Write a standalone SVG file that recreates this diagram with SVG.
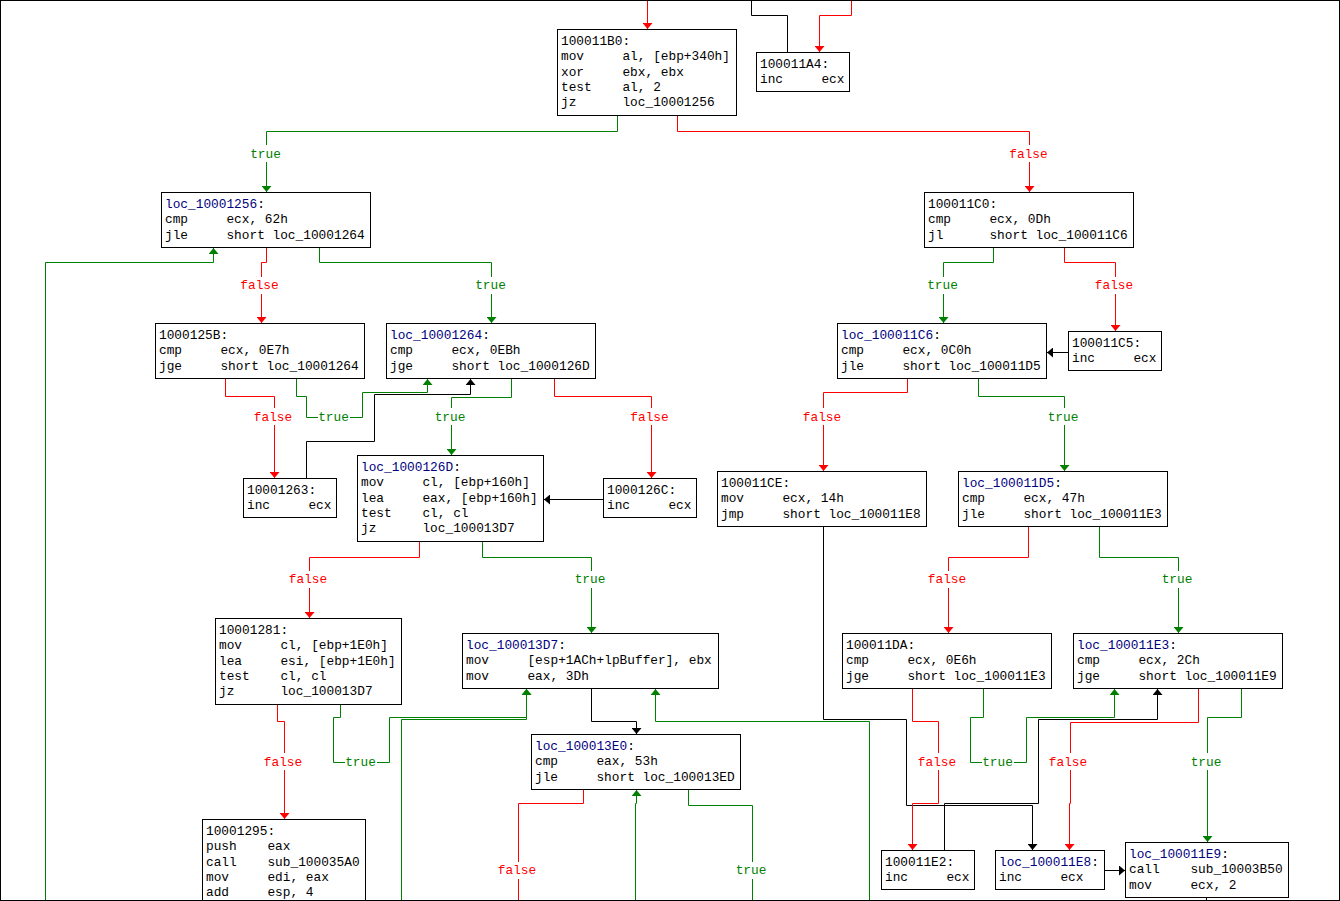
<svg xmlns="http://www.w3.org/2000/svg" width="1340" height="901" viewBox="0 0 1340 901" xml:space="preserve">
<style>
.box{fill:#fff;stroke:#000;stroke-width:1}
.t{font-family:"Liberation Mono","DejaVu Sans Mono",monospace;font-size:12.8px;fill:#000;white-space:pre}
.lb{fill:#000080}
.e{fill:none;stroke-width:1}
.g{stroke:#008000}
.r{stroke:#ff0000}
.k{stroke:#000}
.lt{font-family:"Liberation Mono","DejaVu Sans Mono",monospace;font-size:12.8px;text-anchor:middle;white-space:pre}
.lg{fill:#008000}
.lr{fill:#ff0000}
.bg{fill:#fff}
</style>
<defs>
<marker id="ag" viewBox="0 0 6 10" refX="6" refY="5" markerWidth="6" markerHeight="10" markerUnits="userSpaceOnUse" orient="auto"><path d="M0,0 L6,5 L0,10 z" fill="#008000"/></marker>
<marker id="ar" viewBox="0 0 6 10" refX="6" refY="5" markerWidth="6" markerHeight="10" markerUnits="userSpaceOnUse" orient="auto"><path d="M0,0 L6,5 L0,10 z" fill="#ff0000"/></marker>
<marker id="ak" viewBox="0 0 6 10" refX="6" refY="5" markerWidth="6" markerHeight="10" markerUnits="userSpaceOnUse" orient="auto"><path d="M0,0 L6,5 L0,10 z" fill="#000"/></marker>
</defs>
<rect width="1340" height="901" fill="#fff"/>
<g id="connectors">
<path class="e r" d="M647.5,0 V29" marker-end="url(#ar)"/>
<path class="e k" d="M787.5,52 V15.5 H751.5 V0"/>
<path class="e r" d="M851.5,0 V15.5 H819.5 V52" marker-end="url(#ar)"/>
<path class="e g" d="M617.5,115 V131.5 H266.5 V192" marker-end="url(#ag)"/>
<path class="e r" d="M677.5,115 V131.5 H1029.5 V192" marker-end="url(#ar)"/>
<path class="e r" d="M266.5,247 V262.5 H261.5 V323" marker-end="url(#ar)"/>
<path class="e g" d="M319.5,247 V262.5 H491.5 V323" marker-end="url(#ag)"/>
<path class="e g" d="M45.5,901 V262.5 H213.5 V248" marker-end="url(#ag)"/>
<path class="e g" d="M993.5,247 V262.5 H943.5 V323" marker-end="url(#ag)"/>
<path class="e r" d="M1064.5,247 V262.5 H1115.5 V331" marker-end="url(#ar)"/>
<path class="e k" d="M1068,352.5 H1047" marker-end="url(#ak)"/>
<path class="e r" d="M225.5,378 V396.5 H274.5 V478" marker-end="url(#ar)"/>
<path class="e g" d="M296.5,378 V396.5 H306.5 V417.5 H362.5 V392.5 H427.5 V379" marker-end="url(#ag)"/>
<path class="e k" d="M306.5,478 V441.5 H374.5 V394.5 H470.5 V379" marker-end="url(#ak)"/>
<path class="e g" d="M511.5,378 V397.5 H451.5 V455" marker-end="url(#ag)"/>
<path class="e r" d="M554.5,378 V396.5 H651.5 V478" marker-end="url(#ar)"/>
<path class="e k" d="M603,499.5 H544" marker-end="url(#ak)"/>
<path class="e r" d="M907.5,378 V392.5 H823.5 V471" marker-end="url(#ar)"/>
<path class="e g" d="M978.5,378 V396.5 H1064.5 V471" marker-end="url(#ag)"/>
<path class="e r" d="M419.5,541 V557.5 H309.5 V618" marker-end="url(#ar)"/>
<path class="e g" d="M482.5,541 V557.5 H591.5 V633" marker-end="url(#ag)"/>
<path class="e k" d="M823.5,526 V719.5 H906.5 V805.5 H1032.5 V850" marker-end="url(#ak)"/>
<path class="e r" d="M1028.5,526 V557.5 H948.5 V633" marker-end="url(#ar)"/>
<path class="e g" d="M1099.5,526 V557.5 H1178.5 V633" marker-end="url(#ag)"/>
<path class="e r" d="M277.5,704 V721.5 H284.5 V819" marker-end="url(#ar)"/>
<path class="e g" d="M340.5,704 V717.5 H333.5 V762.5 H389.5 V717.5 H526.5 V689" marker-end="url(#ag)"/>
<path class="e g" d="M401.5,901 V719.5 H526.5 V689" marker-end="url(#ag)"/>
<path class="e k" d="M591.5,688 V721.5 H636.5 V734" marker-end="url(#ak)"/>
<path class="e g" d="M869.5,901 V721.5 H655.5 V689" marker-end="url(#ag)"/>
<path class="e r" d="M583.5,789 V803.5 H518.5 V901"/>
<path class="e g" d="M635.5,901 V803.5 H636.5 V790" marker-end="url(#ag)"/>
<path class="e g" d="M688.5,789 V805.5 H752.5 V901"/>
<path class="e r" d="M912.5,688 V721.5 H938.5 V803.5 H912.5 V850" marker-end="url(#ar)"/>
<path class="e g" d="M983.5,688 V717.5 H970.5 V762.5 H1026.5 V717.5 H1114.5 V689" marker-end="url(#ag)"/>
<path class="e k" d="M944.5,850 V803.5 H1038.5 V719.5 H1157.5 V689" marker-end="url(#ak)"/>
<path class="e r" d="M1198.5,688 V722.5 H1070.5 V803.5 H1069.5 V850" marker-end="url(#ar)"/>
<path class="e g" d="M1241.5,688 V717.5 H1207.5 V842" marker-end="url(#ag)"/>
<path class="e k" d="M1104,870.5 H1125" marker-end="url(#ak)"/>
<path class="e k" d="M1206.5,897 V901"/>
<!-- labels -->
<rect class="bg" x="249" y="145" width="33" height="17"/><text class="lt lg" x="265.5" y="157.5">true</text>
<rect class="bg" x="1008" y="145" width="41" height="17"/><text class="lt lr" x="1028.5" y="157.5">false</text>
<rect class="bg" x="239" y="277" width="41" height="17"/><text class="lt lr" x="259.5" y="289">false</text>
<rect class="bg" x="474" y="277" width="33" height="17"/><text class="lt lg" x="490.5" y="289">true</text>
<rect class="bg" x="926" y="277" width="33" height="17"/><text class="lt lg" x="942.5" y="289">true</text>
<rect class="bg" x="1094" y="277" width="41" height="17"/><text class="lt lr" x="1114" y="289">false</text>
<rect class="bg" x="253" y="408" width="41" height="17"/><text class="lt lr" x="273" y="420.5">false</text>
<rect class="bg" x="318" y="408" width="32" height="17"/><text class="lt lg" x="333.5" y="420.5">true</text>
<rect class="bg" x="434" y="408" width="33" height="17"/><text class="lt lg" x="450" y="420.5">true</text>
<rect class="bg" x="629" y="408" width="41" height="17"/><text class="lt lr" x="649.5" y="420.5">false</text>
<rect class="bg" x="802" y="408" width="41" height="17"/><text class="lt lr" x="822" y="420.5">false</text>
<rect class="bg" x="1047" y="408" width="33" height="17"/><text class="lt lg" x="1063" y="420.5">true</text>
<rect class="bg" x="288" y="571" width="41" height="17"/><text class="lt lr" x="308" y="583">false</text>
<rect class="bg" x="574" y="571" width="33" height="17"/><text class="lt lg" x="590" y="583">true</text>
<rect class="bg" x="927" y="571" width="41" height="17"/><text class="lt lr" x="947" y="583">false</text>
<rect class="bg" x="1161" y="571" width="33" height="17"/><text class="lt lg" x="1177" y="583">true</text>
<rect class="bg" x="263" y="753" width="41" height="17"/><text class="lt lr" x="283" y="765.5">false</text>
<rect class="bg" x="345" y="753" width="32" height="17"/><text class="lt lg" x="360.5" y="765.5">true</text>
<rect class="bg" x="917" y="753" width="41" height="17"/><text class="lt lr" x="937" y="765.5">false</text>
<rect class="bg" x="982" y="753" width="32" height="17"/><text class="lt lg" x="997.5" y="765.5">true</text>
<rect class="bg" x="1048" y="753" width="41" height="17"/><text class="lt lr" x="1068" y="765.5">false</text>
<rect class="bg" x="1190" y="753" width="33" height="17"/><text class="lt lg" x="1206" y="765.5">true</text>
<rect class="bg" x="497" y="862" width="41" height="17"/><text class="lt lr" x="517" y="874">false</text>
<rect class="bg" x="735" y="862" width="33" height="17"/><text class="lt lg" x="751" y="874">true</text>
</g>
<g id="n100011B0"><rect class="box" x="557.5" y="29.5" width="179" height="86"/>
<text class="t" x="561" y="45">100011B0:</text><text class="t" x="561" y="60.25">mov     al, [ebp+340h]</text><text class="t" x="561" y="75.5">xor     ebx, ebx</text><text class="t" x="561" y="90.75">test    al, 2</text><text class="t" x="561" y="106">jz      loc_10001256</text></g>
<g id="n100011A4"><rect class="box" x="756.5" y="52.5" width="93" height="39"/>
<text class="t" x="760" y="68">100011A4:</text><text class="t" x="760" y="83.25">inc     ecx</text></g>
<g id="nloc_10001256"><rect class="box" x="161.5" y="192.5" width="209" height="55"/>
<text class="t" x="165" y="208"><tspan class="lb">loc_10001256</tspan>:</text><text class="t" x="165" y="223.25">cmp     ecx, 62h</text><text class="t" x="165" y="238.5">jle     short loc_10001264</text></g>
<g id="n100011C0"><rect class="box" x="924.5" y="192.5" width="209" height="55"/>
<text class="t" x="928" y="208">100011C0:</text><text class="t" x="928" y="223.25">cmp     ecx, 0Dh</text><text class="t" x="928" y="238.5">jl      short loc_100011C6</text></g>
<g id="n1000125B"><rect class="box" x="155.5" y="323.5" width="209" height="55"/>
<text class="t" x="159" y="339">1000125B:</text><text class="t" x="159" y="354.25">cmp     ecx, 0E7h</text><text class="t" x="159" y="369.5">jge     short loc_10001264</text></g>
<g id="nloc_10001264"><rect class="box" x="386.5" y="323.5" width="209" height="55"/>
<text class="t" x="390" y="339"><tspan class="lb">loc_10001264</tspan>:</text><text class="t" x="390" y="354.25">cmp     ecx, 0EBh</text><text class="t" x="390" y="369.5">jge     short loc_1000126D</text></g>
<g id="n10001263"><rect class="box" x="243.5" y="478.5" width="93" height="39"/>
<text class="t" x="247" y="494">10001263:</text><text class="t" x="247" y="509.25">inc     ecx</text></g>
<g id="nloc_1000126D"><rect class="box" x="357.5" y="455.5" width="186" height="86"/>
<text class="t" x="361" y="471"><tspan class="lb">loc_1000126D</tspan>:</text><text class="t" x="361" y="486.25">mov     cl, [ebp+160h]</text><text class="t" x="361" y="501.5">lea     eax, [ebp+160h]</text><text class="t" x="361" y="516.75">test    cl, cl</text><text class="t" x="361" y="532">jz      loc_100013D7</text></g>
<g id="n1000126C"><rect class="box" x="603.5" y="478.5" width="93" height="39"/>
<text class="t" x="607" y="494">1000126C:</text><text class="t" x="607" y="509.25">inc     ecx</text></g>
<g id="nloc_100011C6"><rect class="box" x="837.5" y="323.5" width="209" height="55"/>
<text class="t" x="841" y="339"><tspan class="lb">loc_100011C6</tspan>:</text><text class="t" x="841" y="354.25">cmp     ecx, 0C0h</text><text class="t" x="841" y="369.5">jle     short loc_100011D5</text></g>
<g id="n100011C5"><rect class="box" x="1068.5" y="331.5" width="93" height="39"/>
<text class="t" x="1072" y="347">100011C5:</text><text class="t" x="1072" y="362.25">inc     ecx</text></g>
<g id="n100011CE"><rect class="box" x="717.5" y="471.5" width="209" height="55"/>
<text class="t" x="721" y="487">100011CE:</text><text class="t" x="721" y="502.25">mov     ecx, 14h</text><text class="t" x="721" y="517.5">jmp     short loc_100011E8</text></g>
<g id="nloc_100011D5"><rect class="box" x="958.5" y="471.5" width="209" height="55"/>
<text class="t" x="962" y="487"><tspan class="lb">loc_100011D5</tspan>:</text><text class="t" x="962" y="502.25">cmp     ecx, 47h</text><text class="t" x="962" y="517.5">jle     short loc_100011E3</text></g>
<g id="n10001281"><rect class="box" x="215.5" y="618.5" width="186" height="86"/>
<text class="t" x="219" y="634">10001281:</text><text class="t" x="219" y="649.25">mov     cl, [ebp+1E0h]</text><text class="t" x="219" y="664.5">lea     esi, [ebp+1E0h]</text><text class="t" x="219" y="679.75">test    cl, cl</text><text class="t" x="219" y="695">jz      loc_100013D7</text></g>
<g id="nloc_100013D7"><rect class="box" x="462.5" y="633.5" width="256" height="55"/>
<text class="t" x="466" y="649"><tspan class="lb">loc_100013D7</tspan>:</text><text class="t" x="466" y="664.25">mov     [esp+1ACh+lpBuffer], ebx</text><text class="t" x="466" y="679.5">mov     eax, 3Dh</text></g>
<g id="nloc_100013E0"><rect class="box" x="531.5" y="734.5" width="209" height="55"/>
<text class="t" x="535" y="750"><tspan class="lb">loc_100013E0</tspan>:</text><text class="t" x="535" y="765.25">cmp     eax, 53h</text><text class="t" x="535" y="780.5">jle     short loc_100013ED</text></g>
<g id="n100011DA"><rect class="box" x="842.5" y="633.5" width="209" height="55"/>
<text class="t" x="846" y="649">100011DA:</text><text class="t" x="846" y="664.25">cmp     ecx, 0E6h</text><text class="t" x="846" y="679.5">jge     short loc_100011E3</text></g>
<g id="nloc_100011E3"><rect class="box" x="1073.5" y="633.5" width="209" height="55"/>
<text class="t" x="1077" y="649"><tspan class="lb">loc_100011E3</tspan>:</text><text class="t" x="1077" y="664.25">cmp     ecx, 2Ch</text><text class="t" x="1077" y="679.5">jge     short loc_100011E9</text></g>
<g id="n10001295"><rect class="box" x="202.5" y="819.5" width="163" height="100"/>
<text class="t" x="206" y="835">10001295:</text><text class="t" x="206" y="850.25">push    eax</text><text class="t" x="206" y="865.5">call    sub_100035A0</text><text class="t" x="206" y="880.75">mov     edi, eax</text><text class="t" x="206" y="896">add     esp, 4</text></g>
<g id="n100011E2"><rect class="box" x="881.5" y="850.5" width="93" height="39"/>
<text class="t" x="885" y="866">100011E2:</text><text class="t" x="885" y="881.25">inc     ecx</text></g>
<g id="nloc_100011E8"><rect class="box" x="995.5" y="850.5" width="109" height="39"/>
<text class="t" x="999" y="866"><tspan class="lb">loc_100011E8</tspan>:</text><text class="t" x="999" y="881.25">inc     ecx</text></g>
<g id="nloc_100011E9"><rect class="box" x="1125.5" y="842.5" width="163" height="55"/>
<text class="t" x="1129" y="858"><tspan class="lb">loc_100011E9</tspan>:</text><text class="t" x="1129" y="873.25">call    sub_10003B50</text><text class="t" x="1129" y="888.5">mov     ecx, 2</text></g>
<rect x="0.5" y="0.5" width="1339" height="900" fill="none" stroke="#000" stroke-width="1"/>
</svg>
